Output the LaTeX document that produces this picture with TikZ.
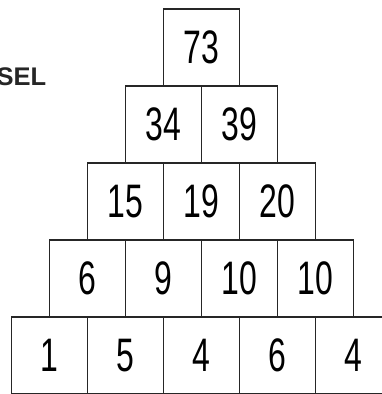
\documentclass[tikz,border=0pt]{standalone}
\usepackage{fontspec}
\setmainfont{Liberation Sans}
\newfontfamily\labelfont{Liberation Sans}
\begin{document}
\begin{tikzpicture}[x=1pt,y=-1pt,
  cellbox/.style={draw=black!85, line width=1.5pt, minimum width=76pt, minimum height=77pt, inner sep=0pt, outer sep=0pt, anchor=center},
]
\useasboundingbox (0,0) rectangle (382,394);
\clip (0,0) rectangle (382,394);
\node[anchor=east, font=\labelfont\bfseries\fontsize{25.5}{25.5}\selectfont, text=black!85, inner sep=0pt] (sel) at (46.5,77) {SEL};
\newcommand{\cellnode}[4]{%
  \node[cellbox] (#1) at (#2,#3) {\raisebox{-2pt}{\scalebox{0.68}[1]{\fontsize{47}{47}\selectfont #4}}};}
% row 1
\cellnode{a1}{201.5}{47.5}{73}
% row 2
\cellnode{b1}{163.5}{124.5}{34}
\cellnode{b2}{239.5}{124.5}{39}
% row 3
\cellnode{c1}{125.5}{201.5}{15}
\cellnode{c2}{201.5}{201.5}{19}
\cellnode{c3}{277.5}{201.5}{20}
% row 4
\cellnode{d1}{87.5}{278.5}{6}
\cellnode{d2}{163.5}{278.5}{9}
\cellnode{d3}{239.5}{278.5}{10}
\cellnode{d4}{315.5}{278.5}{10}
% row 5
\cellnode{e1}{49.5}{355.5}{1}
\cellnode{e2}{125.5}{355.5}{5}
\cellnode{e3}{201.5}{355.5}{4}
\cellnode{e4}{277.5}{355.5}{6}
\cellnode{e5}{353.5}{355.5}{4}
\end{tikzpicture}
\end{document}
